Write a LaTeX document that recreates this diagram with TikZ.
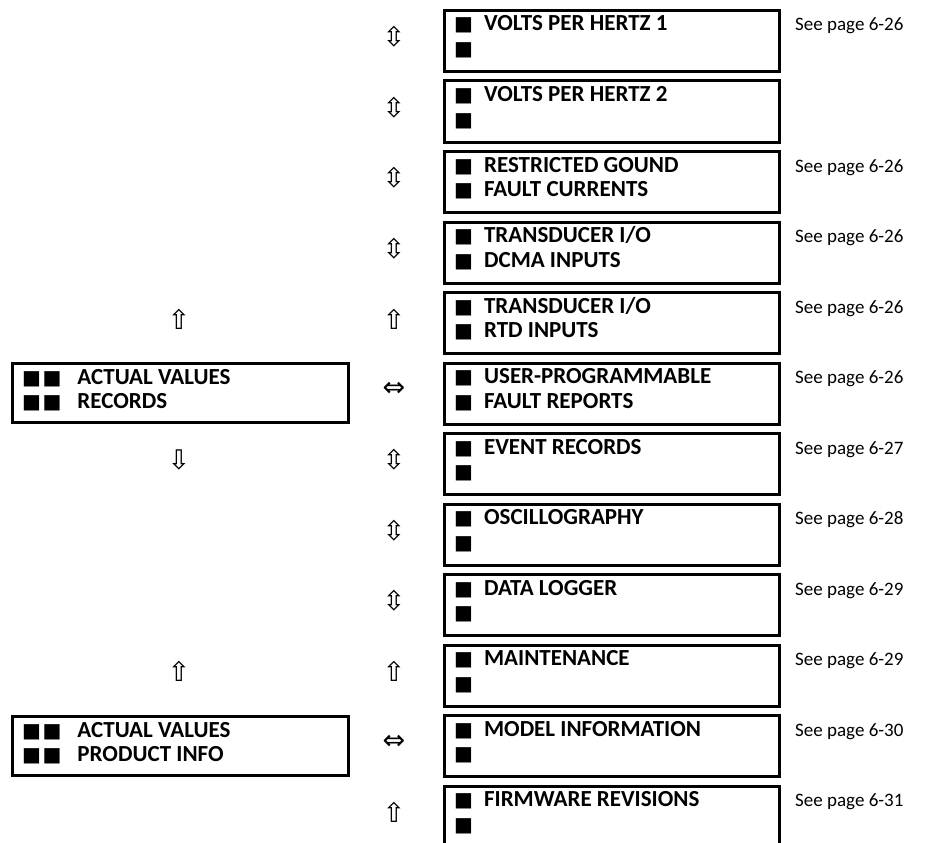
\documentclass[tikz,border=0pt]{standalone}
\usepackage{fontspec}
\setmainfont{Carlito}
\newfontfamily\symf{DejaVu Sans}
\newcommand\blk{{\symf\fontsize{20}{20}\selectfont ■}}
\newcommand\rightitem[5]{%
  \node[menubox] (#1) at (443,#2) {};
  \node[itemtext] (#1-l1) at ([shift={(11,22)}]#1.north west) {\blk\hspace{11pt}#3};
  \node[itemtext] (#1-l2) at ([shift={(11,46.5)}]#1.north west) {\blk\hspace{11pt}#4};
  \node[pagetext] (#1-p) at ([shift={(14,22)}]#1.north east) {#5};
}
\begin{document}
\begin{tikzpicture}[x=1pt,y=-1pt,
  menubox/.style={draw,line width=3pt,minimum width=335pt,minimum height=61pt,anchor=north west,inner sep=0pt},
  topbox/.style={draw,line width=3pt,minimum width=336pt,minimum height=59pt,anchor=north west,inner sep=0pt},
  itemtext/.style={anchor=base west,inner sep=0pt,font=\bfseries\fontsize{23}{24}\selectfont},
  pagetext/.style={anchor=base west,inner sep=0pt,font=\fontsize{19}{24}\selectfont},
  arr/.style={inner sep=0pt,font=\symf\fontsize{27}{27}\selectfont}]
\useasboundingbox (0,0) rectangle (929,843);
\clip (0,0) rectangle (929,843);
\rightitem{r1}{9}{VOLTS PER HERTZ 1}{}{See page 6-26}
\rightitem{r2}{79.5}{VOLTS PER HERTZ 2}{}{}
\rightitem{r3}{150}{RESTRICTED GOUND}{FAULT CURRENTS}{See page 6-26}
\rightitem{r4}{220.5}{TRANSDUCER I/O}{DCMA INPUTS}{See page 6-26}
\rightitem{r5}{291}{TRANSDUCER I/O}{RTD INPUTS}{See page 6-26}
\rightitem{r6}{361.5}{USER-PROGRAMMABLE}{FAULT REPORTS}{See page 6-26}
\rightitem{r7}{432}{EVENT RECORDS}{}{See page 6-27}
\rightitem{r8}{502.5}{OSCILLOGRAPHY}{}{See page 6-28}
\rightitem{r9}{573}{DATA LOGGER}{}{See page 6-29}
\rightitem{r10}{643.5}{MAINTENANCE}{}{See page 6-29}
\rightitem{r11}{714}{MODEL INFORMATION}{}{See page 6-30}
\rightitem{r12}{784.5}{FIRMWARE REVISIONS}{}{See page 6-31}
% left boxes
\node[topbox] (lrec) at (11,362) {};
\node[itemtext] (lrec-l1) at ([shift={(11,22)}]lrec.north west) {\blk\hspace{1.5pt}\blk\hspace{16pt}ACTUAL VALUES};
\node[itemtext] (lrec-l2) at ([shift={(11,46)}]lrec.north west) {\blk\hspace{1.5pt}\blk\hspace{16pt}RECORDS};
\node[topbox] (lpi) at (11,715) {};
\node[itemtext] (lpi-l1) at ([shift={(11,22)}]lpi.north west) {\blk\hspace{1.5pt}\blk\hspace{16pt}ACTUAL VALUES};
\node[itemtext] (lpi-l2) at ([shift={(11,46)}]lpi.north west) {\blk\hspace{1.5pt}\blk\hspace{16pt}PRODUCT INFO};
% right arrows
\foreach \r in {1,2,3,4,7,8,9}{\node[arr] (ra\r) at ([xshift=-49pt,yshift=4pt]r\r.west) {⇳};}
\foreach \r in {5,10,12}{\node[arr] (ra\r) at ([xshift=-49pt,yshift=4pt]r\r.west) {⇧};}
\foreach \r in {6,11}{\node[arr] (ra\r) at ([xshift=-49pt,yshift=4pt]r\r.west) {⇔};}
% left arrows
\node[arr] (la5) at ([xshift=179pt,yshift=4pt]0,0 |- r5.west) {⇧};
\node[arr] (la7) at ([xshift=179pt,yshift=4pt]0,0 |- r7.west) {⇩};
\node[arr] (la10) at ([xshift=179pt,yshift=4pt]0,0 |- r10.west) {⇧};
\end{tikzpicture}
\end{document}
